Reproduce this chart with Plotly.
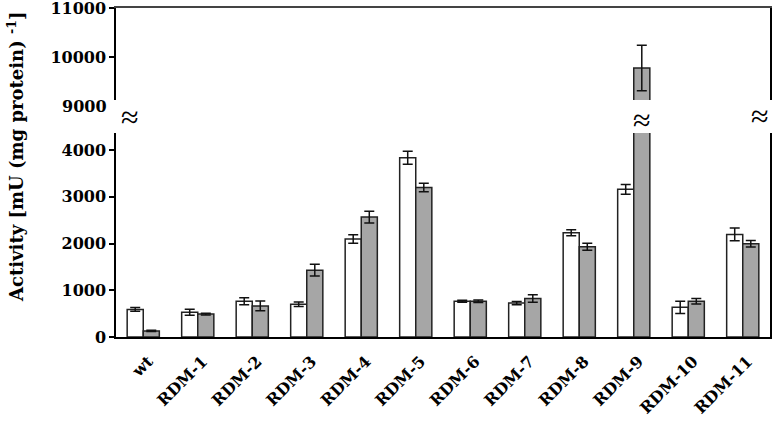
import plotly.graph_objects as go

# data
strains = ["wt", "RDM-1", "RDM-2", "RDM-3", "RDM-4", "RDM-5",
           "RDM-6", "RDM-7", "RDM-8", "RDM-9", "RDM-10", "RDM-11"]
white_vals = [590, 530, 765, 700, 2095, 3835, 765, 725, 2230, 3160, 635, 2195]
white_err = [40, 65, 75, 50, 90, 140, 20, 35, 65, 105, 130, 135]
gray_vals = [130, 490, 665, 1430, 2565, 3200, 765, 825, 1930, 9770, 765, 1995]
gray_err = [15, 20, 105, 125, 125, 90, 25, 80, 75, 470, 60, 70]

lower_ticks = [0, 1000, 2000, 3000, 4000]
upper_ticks = [10000, 11000]

FONT = "DejaVu Serif"
SERIF = "Liberation Serif"

fig = go.Figure()

# same bars drawn in both halves of the broken axis
for xa, ya in [("x", "y"), ("x2", "y2")]:
    fig.add_trace(go.Bar(
        x=strains, y=white_vals, xaxis=xa, yaxis=ya,
        marker=dict(color="white", line=dict(color="#222", width=1.5)),
        error_y=dict(type="data", array=white_err, color="#111", thickness=1.5, width=5),
        showlegend=False,
    ))
    fig.add_trace(go.Bar(
        x=strains, y=gray_vals, xaxis=xa, yaxis=ya,
        marker=dict(color="#a6a6a6", line=dict(color="#222", width=1.5)),
        error_y=dict(type="data", array=gray_err, color="#111", thickness=1.5, width=5),
        showlegend=False,
    ))

axis_font = dict(family=FONT, size=16, color="black", weight="bold")

fig.update_layout(
    width=783, height=422,
    margin=dict(l=116, r=13, t=8, b=85),
    plot_bgcolor="white", paper_bgcolor="white",
    barmode="group", bargap=0.41, bargroupgap=0,
    font=dict(family=FONT, color="black"),
    xaxis=dict(
        anchor="y", showline=True, linecolor="black", linewidth=1.5,
        ticks="", tickangle=-45, tickfont=axis_font,
        ticklabelstandoff=7, ticklabelshift=5, automargin=False,
        showgrid=False,
    ),
    yaxis=dict(
        domain=[0, 0.62], range=[0, 4364], tickvals=lower_ticks,
        tickformat="d", automargin=False,
        showline=True, mirror=True, linecolor="black", linewidth=1.5,
        ticks="outside", ticklen=5, tickwidth=1.5, tickcolor="black",
        tickfont=axis_font, showgrid=False, zeroline=False,
    ),
    xaxis2=dict(
        anchor="y2", matches="x", side="top", showline=True,
        linecolor="#444", linewidth=1.5, ticks="", showticklabels=False,
        showgrid=False, automargin=False,
    ),
    yaxis2=dict(
        domain=[0.7204, 1], range=[9110, 11010], tickvals=upper_ticks,
        tickformat="d", automargin=False, ticklabeloverflow="allow",
        showline=True, mirror=True, linecolor="black", linewidth=1.5,
        ticks="outside", ticklen=5, tickwidth=1.5, tickcolor="black",
        tickfont=axis_font, showgrid=False, zeroline=False,
    ),
)

# "9000" label sits just below the upper segment's end
fig.add_annotation(
    text="9000", xref="paper", yref="paper", x=0, y=0.702,
    xanchor="right", yanchor="middle", xshift=-7, showarrow=False,
    font=axis_font,
)

# axis break markers
break_font = dict(family=SERIF, size=32, color="black")
fig.add_annotation(text="≈", xref="paper", yref="paper", x=0.004, y=0.678,
                   yshift=17, showarrow=False, font=break_font)
fig.add_annotation(text="≈", xref="paper", yref="paper", x=1.002, y=0.681,
                   yshift=17, showarrow=False, font=break_font)
fig.add_annotation(text="≈", xref="x", yref="paper", x="RDM-9", xshift=8, y=0.669,
                   yshift=17, showarrow=False, font=break_font)

fig.add_annotation(
    text="Activity [mU (mg protein) <sup>-1</sup>]",
    xref="paper", yref="paper", x=-0.153, y=0.547, textangle=-90,
    xanchor="center", yanchor="middle", showarrow=False,
    font=dict(family=FONT, size=18, color="black", weight="bold"),
)

# drop the browser's default body margin so the figure fills the window
fig.write_html(
    "out.html",
    config={"displayModeBar": False},
    post_script="document.body.style.margin = '0';",
)
